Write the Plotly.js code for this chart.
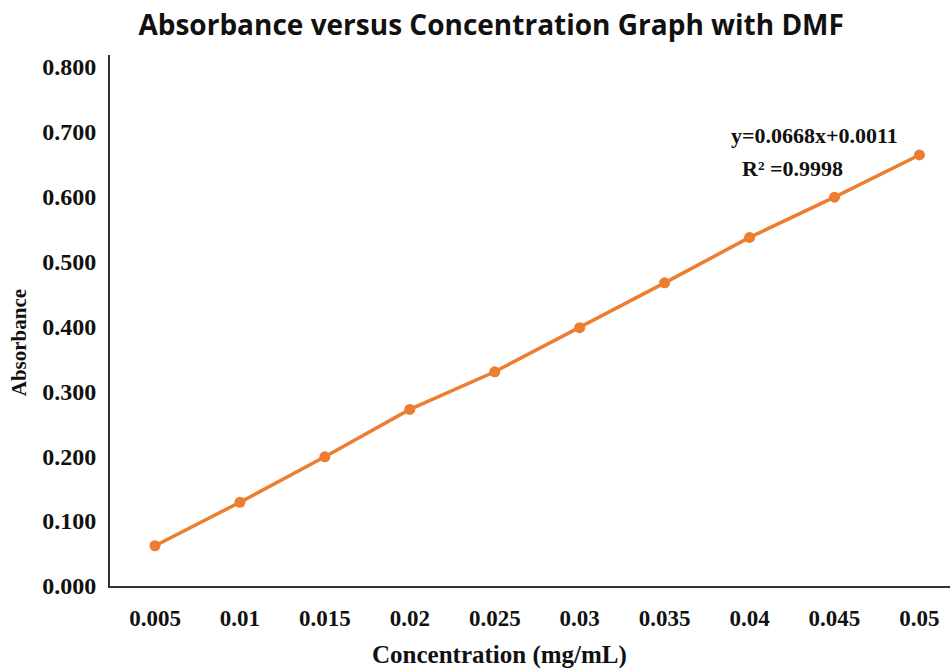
<!DOCTYPE html>
<html><head><meta charset="utf-8">
<script src="https://cdn.plot.ly/plotly-3.0.1.min.js"></script>
<style>html,body{margin:0;padding:0;background:#fff}#chart{width:950px;height:669px}</style>
</head><body><div id="chart"></div>
<script>
const concentrations = ["0.005","0.01","0.015","0.02","0.025","0.03","0.035","0.04","0.045","0.05"];
const absorbance = [0.062, 0.129, 0.199, 0.272, 0.330, 0.398, 0.467, 0.537, 0.599, 0.664];
const yTickVals = [0,0.1,0.2,0.3,0.4,0.5,0.6,0.7,0.8];
const yTickText = ["0.000","0.100","0.200","0.300","0.400","0.500","0.600","0.700","0.800"];
const equationText = "y=0.0668x+0.0011";
const r2Text = "R² =0.9998";

const serif = "Liberation Serif, Times New Roman, serif";
const trace = {
  x: concentrations, y: absorbance, type: "scatter", mode: "lines+markers",
  line: {color: "#ED7D31", width: 3.5},
  marker: {color: "#ED7D31", size: 11},
  hoverinfo: "none"
};
const layout = {
  width: 950, height: 669,
  margin: {l: 110, r: 0, t: 55, b: 83},
  paper_bgcolor: "#fff", plot_bgcolor: "#fff",
  showlegend: false,
  title: {text: "<b>Absorbance versus Concentration Graph with DMF</b>",
    font: {family: "Open Sans, sans-serif", size: 28, color: "#111"},
    x: 0.517, xanchor: "center", y: 0.963, yanchor: "middle"},
  xaxis: {type: "category", range: [-0.53, 9.36],
    showline: true, linecolor: "#333", linewidth: 2, showgrid: false, zeroline: false,
    ticks: "", ticklabelstandoff: 10,
    tickfont: {family: serif, size: 23, color: "#111", weight: "bold"}},
  yaxis: {range: [0, 0.818], tickvals: yTickVals, ticktext: yTickText,
    showline: true, linecolor: "#333", linewidth: 2, showgrid: false, zeroline: false,
    ticks: "", ticklabelstandoff: 7,
    tickfont: {family: serif, size: 24, color: "#111", weight: "bold"}},
  annotations: [
    {text: "<b>Concentration (mg/mL)</b>", xref: "paper", yref: "paper", x: 0.464, y: -0.130,
     xanchor: "center", yanchor: "middle", showarrow: false, font: {family: serif, size: 25, color: "#111"}},
    {text: "<b>Absorbance</b>", xref: "paper", yref: "paper", x: -0.109, y: 0.458, textangle: -90,
     xanchor: "center", yanchor: "middle", showarrow: false, font: {family: serif, size: 21, color: "#111"}},
    {text: "<b>" + equationText + "</b>", xref: "paper", yref: "paper", x: 0.839, y: 0.849,
     xanchor: "center", yanchor: "middle", showarrow: false, font: {family: serif, size: 22, color: "#111"}},
    {text: "<b>" + r2Text + "</b>", xref: "paper", yref: "paper", x: 0.812, y: 0.787,
     xanchor: "center", yanchor: "middle", showarrow: false, font: {family: serif, size: 22, color: "#111"}}
  ]
};
Plotly.newPlot("chart", [trace], layout, {displayModeBar: false, staticPlot: true});
</script></body></html>
